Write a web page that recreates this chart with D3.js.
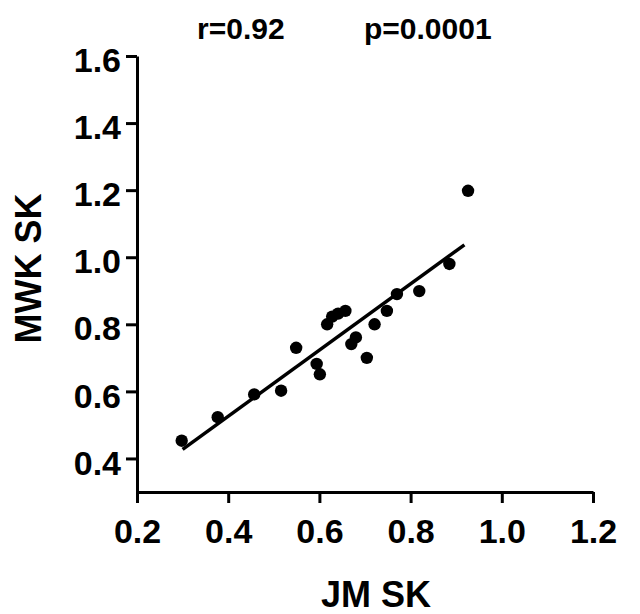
<!DOCTYPE html>
<html><head><meta charset="utf-8">
<script src="https://cdn.jsdelivr.net/npm/d3@7"></script>
<style>
html,body{margin:0;padding:0;background:#fff;}
svg text{font-family:"Liberation Sans",Arial,sans-serif;font-weight:bold;fill:#000;}
</style></head>
<body>
<svg id="chart" width="640" height="614"></svg>
<script>
// Data
const jmSK  = [0.298,0.377,0.457,0.516,0.549,0.594,0.601,0.617,0.628,0.641,0.657,0.670,0.680,0.704,0.721,0.748,0.770,0.819,0.885,0.926];
const mwkSK = [0.453,0.523,0.591,0.602,0.730,0.682,0.651,0.800,0.823,0.832,0.840,0.741,0.761,0.700,0.800,0.840,0.890,0.899,0.980,1.198];
const fitSlope = [0.987];
const fitIntercept = [0.131];
const fitRange = [0.300, 0.918];
const xTicks = [0.2,0.4,0.6,0.8,1.0,1.2];
const yTicks = [0.4,0.6,0.8,1.0,1.2,1.4,1.6];
const statLabels = ["r=0.92","p=0.0001"];
const xTitle = "JM SK";
const yTitle = "MWK SK";

const svg = d3.select("#chart");
const x = d3.scaleLinear().domain([0.2,1.2]).range([137,593]);
const y = d3.scaleLinear().domain([0.3,1.6]).range([492,56]);
const fmt = d3.format(".1f");

// X axis
const gx = svg.append("g").attr("transform",`translate(0,${y(0.3)})`)
  .call(d3.axisBottom(x).tickValues(xTicks).tickFormat(fmt).tickSize(11).tickSizeOuter(0).tickPadding(16));
gx.selectAll("path,line").attr("stroke","#000").attr("stroke-width",3);
gx.selectAll("text").attr("font-size",34).attr("font-family","Liberation Sans, Arial, sans-serif").attr("font-weight","bold");

// Y axis
const gy = svg.append("g").attr("transform",`translate(${x(0.2)},0)`)
  .call(d3.axisLeft(y).tickValues(yTicks).tickFormat(fmt).tickSize(11).tickSizeOuter(0).tickPadding(5));
gy.selectAll("path,line").attr("stroke","#000").attr("stroke-width",3);
gy.selectAll("text").attr("font-size",34).attr("dy","0.46em").attr("font-family","Liberation Sans, Arial, sans-serif").attr("font-weight","bold");

// Regression line
const fit = fitRange.map(v => [v, fitIntercept[0] + fitSlope[0]*v]);
svg.append("path").datum(fit)
  .attr("d", d3.line().x(d=>x(d[0])).y(d=>y(d[1])))
  .attr("stroke","#000").attr("stroke-width",3.5).attr("fill","none");

// Points
svg.append("g").selectAll("circle").data(jmSK.map((v,i)=>[v,mwkSK[i]])).join("circle")
  .attr("cx",d=>x(d[0])).attr("cy",d=>y(d[1])).attr("r",6.2).attr("fill","#000");

// Stats labels
svg.append("text").attr("x",197).attr("y",39).attr("font-size",30).text(statLabels[0]);
svg.append("text").attr("x",364).attr("y",39).attr("font-size",30).text(statLabels[1]);

// Axis titles
svg.append("text").attr("x",376).attr("y",607).attr("text-anchor","middle").attr("font-size",36).text(xTitle);
svg.append("text").attr("transform","translate(40.5,268.5) rotate(-90)").attr("text-anchor","middle").attr("font-size",36).text(yTitle);
</script>
</body></html>
